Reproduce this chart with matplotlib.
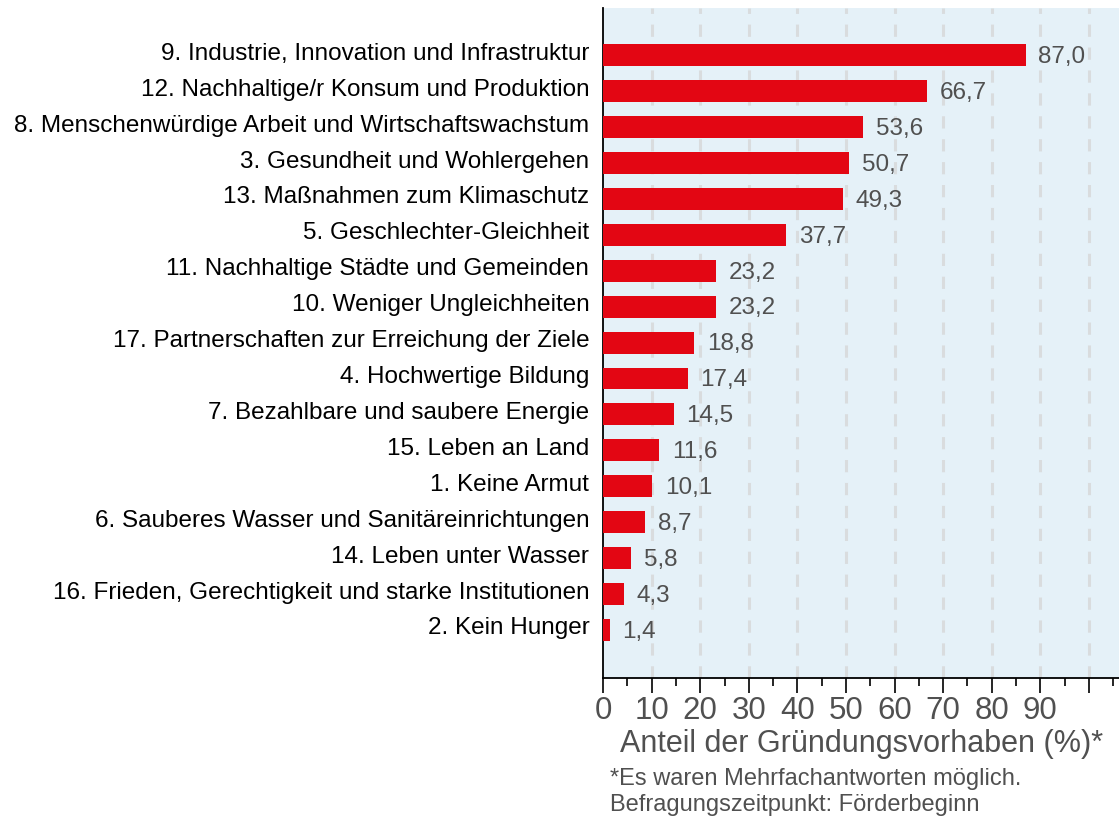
import numpy as np
import matplotlib.pyplot as plt
import matplotlib.transforms as mtrans
from matplotlib.ticker import MultipleLocator

# Data
categories = [
    "9. Industrie, Innovation und Infrastruktur",
    "12. Nachhaltige/r Konsum und Produktion",
    "8. Menschenwürdige Arbeit und Wirtschaftswachstum",
    "3. Gesundheit und Wohlergehen",
    "13. Maßnahmen zum Klimaschutz",
    "5. Geschlechter-Gleichheit",
    "11. Nachhaltige Städte und Gemeinden",
    "10. Weniger Ungleichheiten",
    "17. Partnerschaften zur Erreichung der Ziele",
    "4. Hochwertige Bildung",
    "7. Bezahlbare und saubere Energie",
    "15. Leben an Land",
    "1. Keine Armut",
    "6. Sauberes Wasser und Sanitäreinrichtungen",
    "14. Leben unter Wasser",
    "16. Frieden, Gerechtigkeit und starke Institutionen",
    "2. Kein Hunger",
]
values = [87.0, 66.7, 53.6, 50.7, 49.3, 37.7, 23.2, 23.2, 18.8, 17.4, 14.5, 11.6, 10.1, 8.7, 5.8, 4.3, 1.4]
tick_labels = ["0", "10", "20", "30", "40", "50", "60", "70", "80", "90"]

plt.rcParams['font.family'] = ['Liberation Sans', 'DejaVu Sans']

fig = plt.figure(figsize=(11.19, 8.18), dpi=100)
ax = fig.add_axes([0.539, 0.171, 0.461, 0.819])
ax.set_facecolor("#e5f1f8")

y = np.arange(len(categories))
ax.barh(y, values, height=0.61, color="#e30613", zorder=3)

for yi, v in zip(y, values):
    ax.text(v + 2.6, yi + 0.05, f"{v:.1f}".replace(".", ","), va="center", ha="left",
            fontsize=17.5, color="#505050", zorder=4)

ax.set_yticks(y)
ax.set_yticklabels(categories, fontsize=17.5, color="black")
ax.tick_params(axis="y", length=0, pad=10)
# labels sit a few pixels above the bar centres
shift = mtrans.ScaledTranslation(0, 4 / 100, fig.dpi_scale_trans)
for lbl in ax.get_yticklabels():
    lbl.set_transform(lbl.get_transform() + shift)
ax.set_ylim(len(categories) - 1 + 1.34, -1.31)

ax.set_xlim(0, 106.2)
ax.xaxis.set_minor_locator(MultipleLocator(5))
ax.set_xticks(np.arange(0, 101, 10))
ax.set_xticklabels(tick_labels + [""], fontsize=22.5, color="#505050")
ax.tick_params(axis="x", which="major", length=11, width=1.2, color="black", pad=2)
ax.tick_params(axis="x", which="minor", length=6, width=1.2, color="black")

ax.grid(axis="x", which="major", color="#d9dcde", linestyle=(0, (4, 3.5)), linewidth=2.2, zorder=1)
ax.xaxis.get_major_ticks()[0].gridline.set_visible(False)

for s in ["top", "right"]:
    ax.spines[s].set_visible(False)
ax.spines["left"].set_color("black")
ax.spines["left"].set_linewidth(1.3)
ax.spines["bottom"].set_color("black")
ax.spines["bottom"].set_linewidth(1.3)

ax.set_xlabel("Anteil der Gründungsvorhaben (%)*", fontsize=22, color="#505050", labelpad=2)

fig.text(0.545, 0.032, "*Es waren Mehrfachantworten möglich.\nBefragungszeitpunkt: Förderbeginn",
         fontsize=17, color="#505050", ha="left", va="center", linespacing=1.2)

fig.savefig("out.png", dpi=100)
